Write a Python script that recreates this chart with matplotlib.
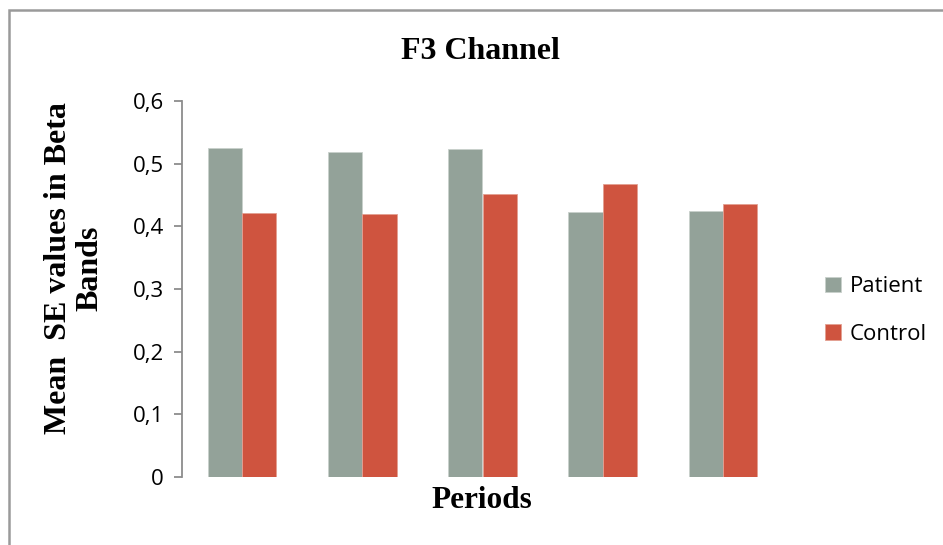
import matplotlib.pyplot as plt
from matplotlib.patches import Rectangle
import numpy as np

# mean SE values in the beta band, F3 channel, one pair per period
periods = ['1', '2', '3', '4', '5']
patient = [0.525, 0.518, 0.524, 0.423, 0.424]
control = [0.421, 0.419, 0.451, 0.467, 0.436]
yticks = [0, 0.1, 0.2, 0.3, 0.4, 0.5, 0.6]
ytick_labels = ['0', '0,1', '0,2', '0,3', '0,4', '0,5', '0,6']

patient_color = '#93A299'
control_color = '#CF543F'

fig = plt.figure(figsize=(9.43, 5.45), dpi=100)
ax = fig.add_axes([182 / 943, 1 - 477 / 545, 601 / 943, 376 / 545])

x = np.arange(len(periods))
w = 0.285
ax.bar(x - w / 2, patient, w, color=patient_color, edgecolor='#C9D0CB',
       linewidth=0.6, label='Patient')
ax.bar(x + w / 2, control, w, color=control_color, edgecolor='#E3A092',
       linewidth=0.6, label='Control')

ax.set_xlim(-0.5, len(periods) - 0.5)
ax.set_ylim(0, 0.6)
ax.set_yticks(yticks)
ax.set_yticklabels(ytick_labels, fontfamily='Open Sans', fontsize=16)
ax.set_xticks([])

for s in ['top', 'right', 'bottom']:
    ax.spines[s].set_visible(False)
ax.spines['left'].set_color('#8C8C8C')
ax.spines['left'].set_linewidth(1.3)
ax.tick_params(axis='y', direction='out', length=6, width=1.3,
               color='#8C8C8C', pad=7)

serif = {'family': 'Liberation Serif', 'weight': 'bold'}
fig.text(0.51, 1 - 51 / 545, 'F3 Channel', ha='center', va='center',
         fontsize=23, **serif)
fig.text(482 / 943, 1 - 501 / 545, 'Periods', ha='center', va='center',
         fontsize=22.5, **serif)
fig.text(74 / 943, 1 - 268 / 545, 'Mean  SE values in Beta\nBands',
         ha='center', va='center', rotation=90, fontsize=23,
         linespacing=1.1, **serif)

leg = ax.legend(loc='center left', bbox_to_anchor=(0.037, 0.443), frameon=False,
                prop={'family': 'Open Sans', 'size': 16},
                handlelength=0.7, handleheight=0.7, handletextpad=0.4,
                labelspacing=1.2)
leg.set_bbox_to_anchor((1.037, 0.443), transform=ax.transAxes)

# outer chart frame, running off the right and bottom edges
fig.patches.append(Rectangle((9 / 943, -0.1), 1.2, 1 - 10 / 545 + 0.1,
                             transform=fig.transFigure, fill=False,
                             edgecolor='#9A9A9A', linewidth=1.8))

fig.savefig('out.png', dpi=100)
